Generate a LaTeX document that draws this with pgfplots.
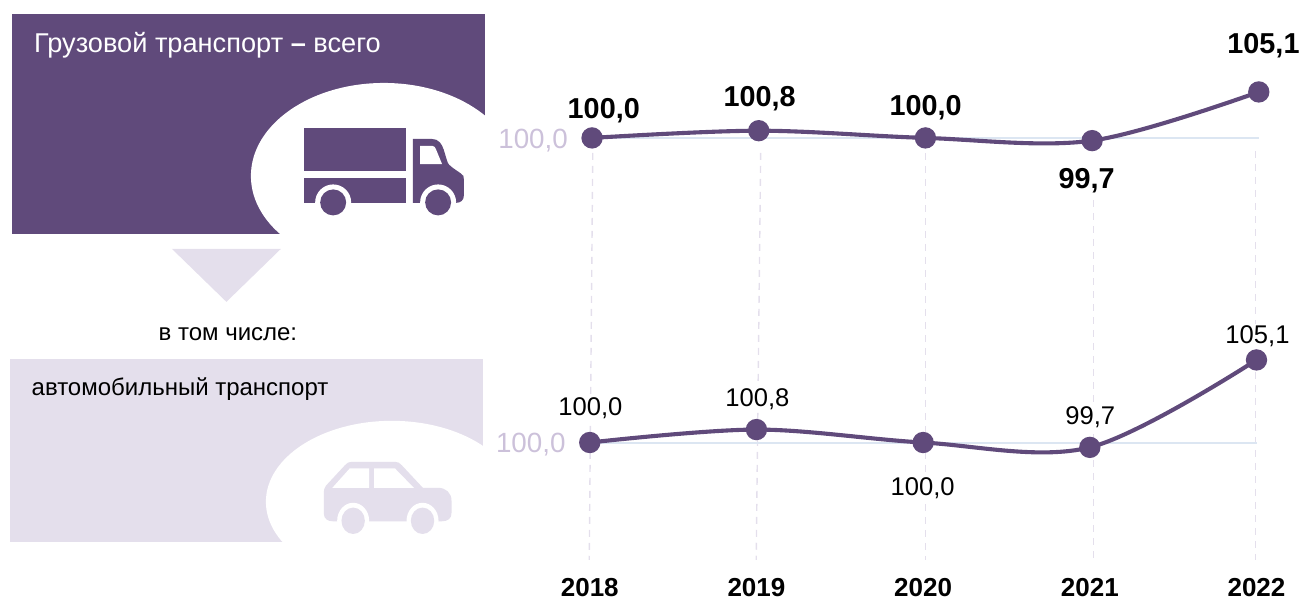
\documentclass[border=0pt]{standalone}
\usepackage{pgfplots}
\pgfplotsset{compat=1.18}
\usepackage{fontspec}
\setmainfont{Liberation Sans}
\definecolor{plum}{HTML}{604A7B}
\definecolor{lav}{HTML}{E4DFEC}
\definecolor{lavtxt}{HTML}{CCC1DA}
\definecolor{hline}{HTML}{DCE6F2}
\newcommand{\fs}[1]{\fontsize{#1}{#1}\selectfont}
\pgfplotsset{
  trend/.style={
    scale only axis, width=667pt,
    xmin=2018, xmax=2022, ymin=99, ymax=106,
    clip=false,
    axis line style={draw=none},
    tick style={draw=none},
    ytick={100}, yticklabel={100,0},
    ymajorgrids, grid style={color=hline,line width=2pt},
    yticklabel style={text=lavtxt,font=\fs{27.8},inner sep=0pt},
  },
  curve/.style={color=plum,line width=4.1pt,smooth,tension=0.55,
    mark=*,mark size=8.6pt,mark options={fill=plum,draw=none}},
}
\begin{document}
\begin{tikzpicture}
\path (0,0) rectangle (1301pt,598pt);
\begin{scope}[x=1pt,y=-1pt,yshift=598pt]
  % upper panel
  \fill[plum] (12,14) rectangle (485,234);
  \begin{scope}
    \clip (12,14) rectangle (485,234);
    \fill[white] (384,176) ellipse [x radius=133,y radius=93];
  \end{scope}
  % truck
  \fill[plum] (304.3,128.3) rectangle (406,171);
  \fill[plum] (304.3,178.3) rectangle (406,202.7);
  \fill[plum] (413,139) -- (432,139) .. controls (439,139) and (442,144) .. (444,150)
     -- (447,160) .. controls (448,164) and (450,166) .. (453,168)
     -- (461,173.5) .. controls (463.5,175) and (464,176) .. (464,180)
     -- (464,196) .. controls (464,200) and (461,203) .. (456,203) -- (413,203) -- cycle;
  \fill[white] (420.3,146) -- (432.5,146) .. controls (434,146) and (435.5,147) .. (436,149)
     -- (442.3,164.3) -- (420.3,164.3) -- cycle;
  \fill[white] (333.3,202.5) circle (18);
  \fill[white] (438.3,202.5) circle (18);
  \fill[white] (315,203) rectangle (352,222);
  \fill[white] (420,203) rectangle (457,222);
  \fill[plum] (333.3,202.5) circle (13);
  \fill[plum] (438.3,202.5) circle (13);
  % arrow
  \fill[lav] (172,249) -- (281,249) -- (226.5,302) -- cycle;
  % lower panel
  \fill[lav] (10,359) rectangle (483,542);
  \begin{scope}
    \clip (10,359) rectangle (483,542);
    \fill[white] (392,502) ellipse [x radius=126,y radius=81];
  \end{scope}
  % car
  \fill[lav] (324,494) -- (324,514) .. controls (324,519) and (328,521.5) .. (333,521.5)
     -- (442,521.5) .. controls (448,521.5) and (451.7,519) .. (451.7,513)
     -- (451.7,501) .. controls (451.7,493) and (446,488) .. (438,488)
     -- (423,488) -- (402,465.5) .. controls (400,463) and (398,462) .. (395,462)
     -- (352,462) .. controls (349,462) and (347,463) .. (345,465.5)
     -- (326,486) .. controls (324.5,488) and (324,490) .. (324,494) -- cycle;
  \fill[white] (332.5,488) -- (350,468.5) -- (369.3,468.5) -- (369.3,488) -- cycle;
  \fill[white] (374.3,468.5) -- (395,468.5) -- (414,488) -- (374.3,488) -- cycle;
  \fill[white] (353.3,521) ellipse [x radius=16,y radius=18];
  \fill[white] (422.7,521) ellipse [x radius=16,y radius=18];
  \fill[lav] (353.3,521) ellipse [x radius=11.7,y radius=13.2];
  \fill[lav] (422.7,521) ellipse [x radius=11.7,y radius=13.2];
  % panel text
  \node[anchor=base west,inner sep=0pt,text=white,font=\fs{27.2}] at (34,52.5) {Грузовой транспорт {\bfseries –} всего};
  \node[anchor=base,inner sep=0pt,font=\fs{24}] at (228,340.5) {в том числе:};
  \node[anchor=base west,inner sep=0pt,font=\fs{24}] at (31.5,395.5) {автомобильный транспорт};
  % drop lines
  \begin{scope}[draw=lav,line width=1.4pt,dash pattern=on 7pt off 6pt]
    \draw (593,153) -- (589.5,560);
    \draw (761,153) -- (756.5,560);
    \draw (926,153) -- (926,560);
    \draw (1094,187) -- (1094,560);
    \draw (1256,151) -- (1256,560);
  \end{scope}
\end{scope}

% upper chart
\begin{axis}[trend, anchor=south west, at={(592.3pt,451pt)}, height=63.14pt,
  xtick=\empty, yticklabel style={xshift=-24pt,yshift=-3pt}]
\addplot[curve] coordinates {(2018,100.0) (2019,100.8) (2020,100.0) (2021,99.7) (2022,105.1)};
\end{axis}

% lower chart
\begin{axis}[trend, anchor=south west, at={(590pt,139.1pt)}, height=113.4pt,
  xtick={2018,2019,2020,2021,2022},
  xticklabels={2018,2019,2020,2021,2022},
  xticklabel style={font=\fs{26}\bfseries,anchor=base,yshift=-138pt},
  yticklabel style={xshift=-24pt,yshift=-2.5pt}]
\addplot[curve] coordinates {(2018,100.0) (2019,100.8) (2020,100.0) (2021,99.7) (2022,105.1)};
\end{axis}

\begin{scope}[x=1pt,y=-1pt,yshift=598pt]
  \begin{scope}[every node/.style={anchor=base,inner sep=1.5pt,fill=white,font=\fs{28.8}\bfseries}]
    \node at (604,119) {100,0};
    \node at (760,107) {100,8};
    \node at (926,116) {100,0};
    \node at (1087,189) {99,7};
    \node at (1264,54) {105,1};
  \end{scope}
  \begin{scope}[every node/.style={anchor=base,inner sep=1.5pt,fill=white,font=\fs{25.6}}]
    \node at (590.7,416) {100,0};
    \node at (757.7,407) {100,8};
    \node at (923,496) {100,0};
    \node at (1090.7,425) {99,7};
    \node at (1258,344) {105,1};
  \end{scope}
\end{scope}
\end{tikzpicture}
\end{document}
